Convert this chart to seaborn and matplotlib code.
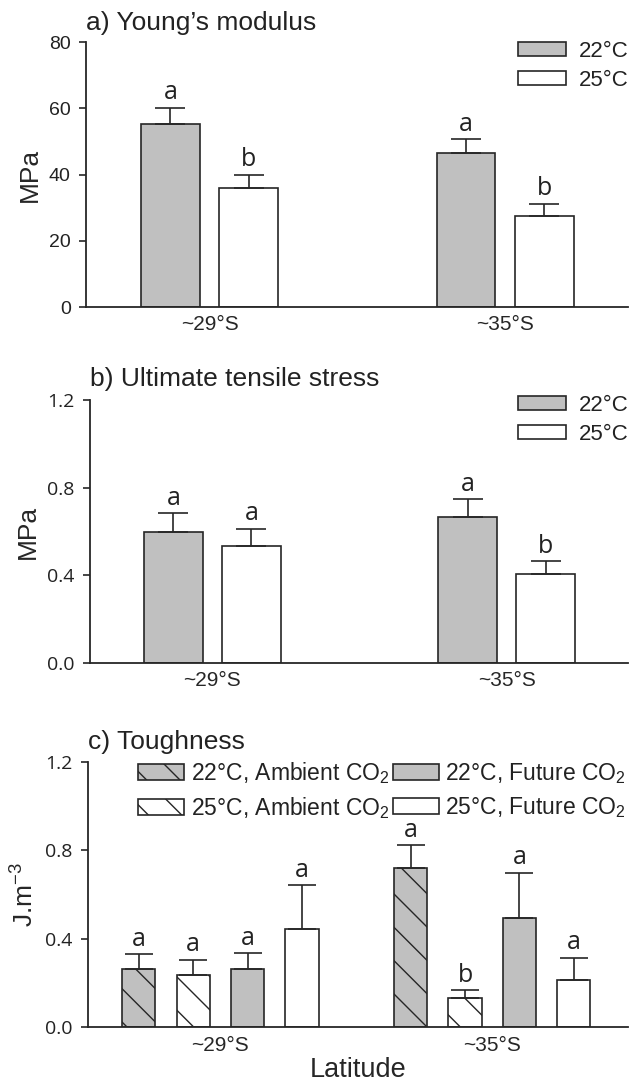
import numpy as np
import pandas as pd
import matplotlib.pyplot as plt
import seaborn as sns
from matplotlib.patches import Patch

# DATA
latitudes = ['~29°S', '~35°S']
temps = ['22°C', '25°C']

# a) Young's modulus, MPa
young_22 = [55.2, 46.4]
young_22_se = [4.9, 4.2]
young_25 = [35.8, 27.5]
young_25_se = [4.1, 3.6]
young_22_sig = ['a', 'a']
young_25_sig = ['b', 'b']

# b) Ultimate tensile stress, MPa
uts_22 = [0.596, 0.668]
uts_22_se = [0.087, 0.079]
uts_25 = [0.535, 0.407]
uts_25_se = [0.078, 0.057]
uts_22_sig = ['a', 'a']
uts_25_sig = ['a', 'b']

# c) Toughness, J.m-3
treatments = ['22°C, Ambient CO$_2$', '25°C, Ambient CO$_2$',
              '22°C, Future CO$_2$', '25°C, Future CO$_2$']
tough_22a = [0.263, 0.720]
tough_25a = [0.235, 0.132]
tough_22f = [0.263, 0.492]
tough_25f = [0.444, 0.215]
tough_22a_se = [0.067, 0.102]
tough_25a_se = [0.069, 0.035]
tough_22f_se = [0.071, 0.205]
tough_25f_se = [0.197, 0.098]
tough_22a_sig = ['a', 'a']
tough_25a_sig = ['a', 'b']
tough_22f_sig = ['a', 'a']
tough_25f_sig = ['a', 'a']

GREY = '#c0c0c0'
EDGE = '#262626'

sns.set_style('ticks')
plt.rcParams['font.family'] = ['Liberation Sans', 'DejaVu Sans']
plt.rcParams['mathtext.fontset'] = 'custom'
plt.rcParams['mathtext.rm'] = 'Liberation Sans'
plt.rcParams['mathtext.it'] = 'Liberation Sans'
plt.rcParams['hatch.linewidth'] = 1.0
plt.rcParams['hatch.color'] = EDGE
plt.rcParams['axes.edgecolor'] = EDGE
plt.rcParams['axes.linewidth'] = 1.3
plt.rcParams['text.color'] = '#222222'


def long_table(groups, values):
    rows = []
    for g, vals in zip(groups, values):
        for lat, v in zip(latitudes, vals):
            rows.append({'Latitude': lat, 'group': g, 'value': v})
    return pd.DataFrame(rows)


def draw_panel(ax, groups, values, errors, sigs, colors, hatches, width, gap,
               ymax, yticks, ylabel, title, tick_fmt, tick_font, title_pad,
               cap):
    df = long_table(groups, values)
    sns.barplot(data=df, x='Latitude', y='value', hue='group', hue_order=groups,
                palette=dict(zip(groups, colors)), width=width, gap=gap,
                edgecolor=EDGE, linewidth=1.2, errorbar=None, legend=False,
                saturation=1, ax=ax)

    for cont, err, sig, hatch in zip(ax.containers, errors, sigs, hatches):
        bars = sorted(cont.patches, key=lambda b: b.get_x())
        xs = [b.get_x() + b.get_width() / 2 for b in bars]
        hs = [b.get_height() for b in bars]
        for b in bars:
            if hatch:
                b.set_hatch(hatch)
        ax.errorbar(xs, hs, yerr=[np.zeros(len(err)), err], fmt='none',
                    ecolor=EDGE, elinewidth=1.2, capsize=cap, capthick=1.2,
                    zorder=1)
        for x, h, e, s in zip(xs, hs, err, sig):
            ax.annotate(s, (x, h + e), xytext=(0, 2), textcoords='offset points',
                        ha='center', va='bottom', fontsize=18,
                        family='Open Sans', color='#222222')

    ax.set_ylim(0, ymax)
    ax.set_yticks(yticks)
    ax.set_yticklabels([tick_fmt.format(t) for t in yticks], family=tick_font,
                       fontsize=14, color='#222222')
    ax.tick_params(axis='y', length=5, width=1.2, pad=6, color=EDGE)
    ax.tick_params(axis='x', length=0, pad=6, labelsize=15)
    ax.set_ylabel(ylabel, fontsize=19, labelpad=5)
    ax.set_xlabel('')
    ax.set_title(title, loc='left', fontsize=19, pad=title_pad, x=0.0)
    sns.despine(ax=ax)


fig = plt.figure(figsize=(6.33, 10.83), dpi=100)

# a) Young's modulus
ax_a = fig.add_axes([0.1359, 0.7165, 0.8562, 0.2447])
draw_panel(ax_a, temps, [young_22, young_25], [young_22_se, young_25_se],
           [young_22_sig, young_25_sig], [GREY, 'white'], [None, None],
           width=0.53, gap=0.25, ymax=80, yticks=[0, 20, 40, 60, 80],
           ylabel='MPa', title='a) Young\u2019s modulus', tick_fmt='{:.0f}',
           tick_font='Liberation Sans', title_pad=8.5, cap=10.5)
ax_a.set_xlim(-0.418, 1.416)
ax_a.legend(handles=[Patch(facecolor=GREY, edgecolor=EDGE, linewidth=1.2),
                     Patch(facecolor='white', edgecolor=EDGE, linewidth=1.2)],
            labels=temps, loc='upper right', bbox_to_anchor=(629 / 633, 1 - 41 / 1083),
            bbox_transform=fig.transFigure, frameon=False, fontsize=16,
            handlelength=2.15, handleheight=0.55, handletextpad=0.6,
            labelspacing=0.35, borderpad=0, borderaxespad=0)

# b) Ultimate tensile stress
ax_b = fig.add_axes([0.1415, 0.3878, 0.8506, 0.2428])
draw_panel(ax_b, temps, [uts_22, uts_25], [uts_22_se, uts_25_se],
           [uts_22_sig, uts_25_sig], [GREY, 'white'], [None, None],
           width=0.53, gap=0.25, ymax=1.2, yticks=[0.0, 0.4, 0.8, 1.2],
           ylabel='MPa', title='b) Ultimate tensile stress', tick_fmt='{:.1f}',
           tick_font='Open Sans', title_pad=10, cap=10.5)
ax_b.set_xlim(-0.417, 1.412)
ax_b.legend(handles=[Patch(facecolor=GREY, edgecolor=EDGE, linewidth=1.2),
                     Patch(facecolor='white', edgecolor=EDGE, linewidth=1.2)],
            labels=temps, loc='upper right', bbox_to_anchor=(629 / 633, 1 - 395 / 1083),
            bbox_transform=fig.transFigure, frameon=False, fontsize=16,
            handlelength=2.15, handleheight=0.55, handletextpad=0.6,
            labelspacing=0.35, borderpad=0, borderaxespad=0)

# c) Toughness
tough_colors = [GREY, 'white', GREY, 'white']
tough_hatches = ['\\', '\\', None, None]
ax_c = fig.add_axes([0.139, 0.0514, 0.853, 0.2452])
draw_panel(ax_c, treatments, [tough_22a, tough_25a, tough_22f, tough_25f],
           [tough_22a_se, tough_25a_se, tough_22f_se, tough_25f_se],
           [tough_22a_sig, tough_25a_sig, tough_22f_sig, tough_25f_sig],
           tough_colors, tough_hatches, width=0.8, gap=0.39, ymax=1.2,
           yticks=[0.0, 0.4, 0.8, 1.2], ylabel='J.m$^{\u22123}$',
           title='c) Toughness', tick_fmt='{:.1f}', tick_font='Open Sans',
           title_pad=9, cap=10)
ax_c.set_xlim(-0.487, 1.499)
ax_c.set_xlabel('Latitude', fontsize=19.5, labelpad=2)
ax_c.legend(handles=[Patch(facecolor=c, edgecolor=EDGE, linewidth=1.2, hatch=h)
                     for c, h in zip(tough_colors, tough_hatches)],
            labels=treatments, ncol=2, loc='upper left',
            bbox_to_anchor=(138 / 633, 1 - 760 / 1083),
            bbox_transform=fig.transFigure, frameon=False, fontsize=16.5,
            handlelength=2.0, handleheight=0.65, handletextpad=0.3,
            columnspacing=0.15, labelspacing=0.4, borderpad=0, borderaxespad=0)

fig.savefig('out.png', dpi=100)
